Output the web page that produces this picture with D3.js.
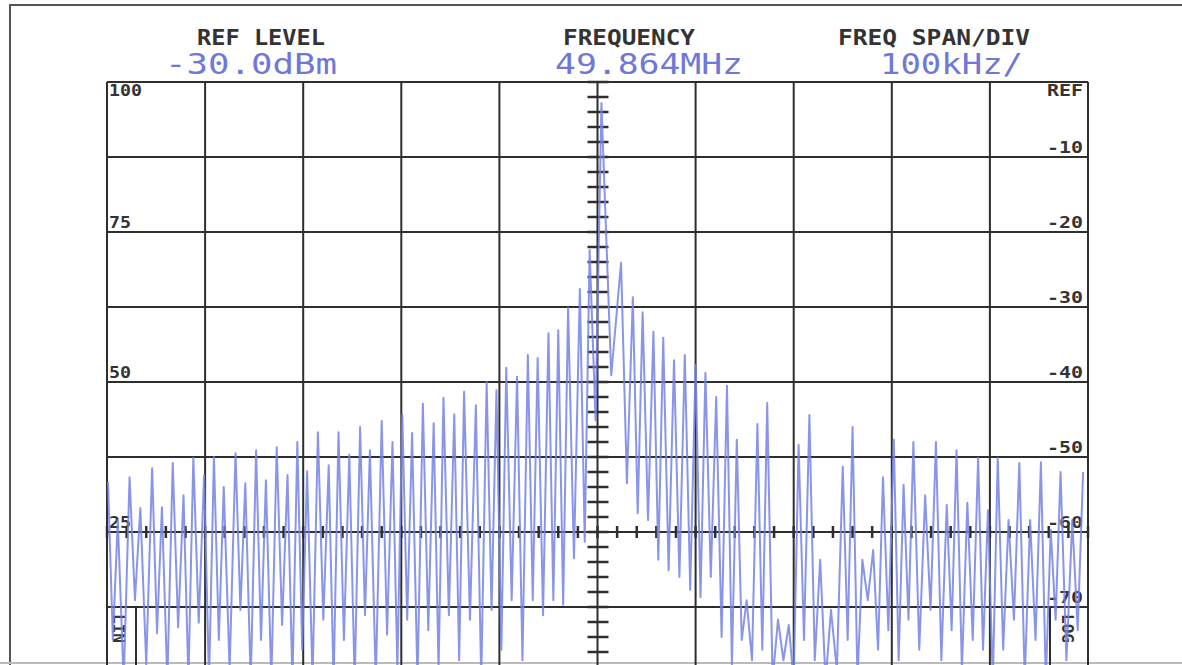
<!DOCTYPE html>
<meta charset="utf-8">
<head>
  <title>Spectrum analyzer display</title>
</head>
<style>
  body { margin: 0; background: #fff; }
  svg { display: block; }
</style>
<body>
  <svg width="1182" height="665"></svg>

  <script src="https://cdn.jsdelivr.net/npm/d3@7"></script>
  <script>
    // header readouts
    var headerLabels = ['REF LEVEL', 'FREQUENCY', 'FREQ SPAN/DIV'];
    var headerValues = ['-30.0dBm', '49.864MHz', '100kHz/'];

    // right (log) and left (lin) scale labels
    var logTickValues = [0, -10, -20, -30, -40, -50, -60, -70];
    var logTickLabels = ['REF', '-10', '-20', '-30', '-40', '-50', '-60', '-70'];
    var linTickValues = [100, 75, 50, 25];
    var linTickLabels = ['100', '75', '50', '25'];

    // trace peaks: offset from centre frequency (kHz) and level (dB below ref)
    var peakKHz = [-499, -489, -477, -466, -454, -444, -433, -422, -412, -401,
      -391, -381, -369, -359, -348, -338, -327, -316, -306, -296,
      -285, -274, -264, -253, -242, -232, -220, -209, -199, -189,
      -178, -167, -157, -146, -136, -124, -113, -103, -93, -82,
      -71, -61, -50, -40, -30, -18, -8, 4, 24, 36,
      46, 57, 67, 78, 89, 100, 110, 121, 132, 142,
      152, 163, 173, 184, 195, 205, 216, 227, 238, 250,
      260, 270, 281, 291, 302, 312, 322, 334, 345, 356,
      366, 377, 388, 398, 408, 419, 430, 441, 452, 462,
      472, 484, 495];
    var peakDb = [-53.3, -58.4, -52.7, -56.8, -51.5, -56.7, -50.8, -55.1, -50.1, -52.4,
      -50.0, -54.0, -49.5, -53.5, -49.1, -53.1, -48.7, -52.4, -48.0, -51.9,
      -46.7, -51.1, -46.7, -49.7, -46.0, -49.1, -45.2, -48.0, -44.4, -46.8,
      -42.9, -45.5, -42.1, -44.3, -41.3, -43.1, -40.0, -41.1, -38.1, -39.3,
      -36.4, -36.8, -33.5, -33.1, -30.1, -27.6, -22.4, -2.8, -24.1, -28.7,
      -30.7, -33.3, -34.1, -37.1, -36.4, -37.7, -38.8, -42.0, -40.5, -47.7,
      -69.1, -45.6, -42.8, -71.7, -72.4, -48.4, -44.4, -63.7, -70.4, -51.3,
      -46.0, -63.7, -62.4, -52.7, -47.7, -53.7, -48.0, -55.1, -48.0, -56.4,
      -49.1, -56.1, -50.1, -57.1, -50.1, -58.4, -50.8, -58.4, -50.7, -59.7,
      -52.0, -58.4, -52.0];
    // trough level between each pair of neighbouring peaks (dB below ref)
    var troughDb = [-74.4, -80, -69.1, -77.7, -73.5, -80, -72.7, -79.7, -72.1, -80,
      -74.4, -78.4, -70.4, -80, -74.4, -80, -72.4, -80, -75.7, -79.7,
      -71.7, -80, -74.4, -80, -71.1, -80, -73.7, -78.4, -71.7, -80,
      -73.1, -78.4, -71.1, -77.1, -71.7, -79.7, -70.4, -75.7, -69.1, -77.1,
      -69.1, -71.1, -69.1, -69.7, -63.5, -61.3, -45.1, -39.1, -53.5, -57.5,
      -58.4, -63.7, -65.1, -66.0, -67.7, -68.7, -66.0, -74.0, -77.7, -74.4,
      -77.1, -75.7, -79.7, -77.1, -80, -74.4, -77.1, -80, -78.4, -74.4,
      -79.7, -69.1, -75.7, -73.1, -77.1, -71.7, -75.7, -70.4, -77.1, -73.1,
      -78.4, -74.4, -75.7, -80, -75.7, -71.7, -79.7, -74.4, -80, -71.7,
      -77.1, -73.1];

    var svg = d3.select('svg');
    var plotLeft = 107, plotRight = 1088, plotTop = 82, plotBottom = 682;

    var x = d3.scaleLinear().domain([-500, 500]).range([plotLeft, plotRight]);
    var yDb = d3.scaleLinear().domain([-80, 0]).range([plotBottom, plotTop]);
    var yLin = d3.scaleLinear().domain([0, 100]).range([plotBottom, plotTop]);

    var gridColor = '#2e2e2e';
    var traceColor = '#7482e4';

    // outer frame of the print
    svg.append('path')
      .attr('d', 'M10,668 L10,5 L1182,5')
      .attr('fill', 'none')
      .attr('stroke', '#555')
      .attr('stroke-width', 2);
    svg.append('line')
      .attr('x1', 0).attr('x2', 1182).attr('y1', 663).attr('y2', 663)
      .attr('stroke', '#bbb').attr('stroke-width', 2);

    // header readouts
    var headerX = [197, 563, 838];
    var headerW = [128, 132, 192];
    var valueX = [165, 555, 880];
    var valueW = [172, 188, 143];
    svg.append('g').selectAll('text')
      .data(headerLabels)
      .enter()
      .append('text')
      .attr('x', (d, i) => headerX[i])
      .attr('y', 45)
      .attr('textLength', (d, i) => headerW[i])
      .attr('lengthAdjust', 'spacingAndGlyphs')
      .attr('font-family', 'DejaVu Sans Mono')
      .attr('font-weight', 'bold')
      .attr('font-size', 21)
      .attr('fill', '#333')
      .text(d => d);
    svg.append('g').selectAll('text')
      .data(headerValues)
      .enter()
      .append('text')
      .attr('x', (d, i) => valueX[i])
      .attr('y', 74)
      .attr('textLength', (d, i) => valueW[i])
      .attr('lengthAdjust', 'spacingAndGlyphs')
      .attr('font-family', 'DejaVu Sans Mono')
      .attr('font-size', 28)
      .attr('fill', '#6f78d6')
      .text(d => d);

    var plot = svg.append('g');

    // grid
    plot.append('g').selectAll('line')
      .data(d3.range(-500, 501, 100))
      .enter()
      .append('line')
      .attr('x1', d => x(d)).attr('x2', d => x(d))
      .attr('y1', plotTop).attr('y2', plotBottom)
      .attr('stroke', gridColor).attr('stroke-width', 2);
    plot.append('g').selectAll('line')
      .data(d3.range(-80, 1, 10))
      .enter()
      .append('line')
      .attr('x1', plotLeft).attr('x2', plotRight)
      .attr('y1', d => yDb(d)).attr('y2', d => yDb(d))
      .attr('stroke', gridColor).attr('stroke-width', 2);

    // minor ticks on the centre axes
    plot.append('g').selectAll('line')
      .data(d3.range(-80, 1, 2))
      .enter()
      .append('line')
      .attr('x1', x(0) - 10).attr('x2', x(0) + 11)
      .attr('y1', d => yDb(d)).attr('y2', d => yDb(d))
      .attr('stroke', gridColor).attr('stroke-width', 2.5);
    plot.append('g').selectAll('line')
      .data(d3.range(-500, 501, 20))
      .enter()
      .append('line')
      .attr('x1', d => x(d)).attr('x2', d => x(d))
      .attr('y1', yDb(-60) - 6).attr('y2', yDb(-60) + 6)
      .attr('stroke', gridColor).attr('stroke-width', 2.5);

    // LIN / LOG indicators
    plot.append('line')
      .attr('x1', 136).attr('x2', 136).attr('y1', yDb(-70)).attr('y2', plotBottom)
      .attr('stroke', gridColor).attr('stroke-width', 2);
    plot.append('line')
      .attr('x1', 1050).attr('x2', 1050).attr('y1', yDb(-70)).attr('y2', plotBottom)
      .attr('stroke', gridColor).attr('stroke-width', 2);
    plot.append('text')
      .attr('transform', 'translate(113,614) rotate(90)')
      .attr('font-family', 'DejaVu Sans Mono').attr('font-weight', 'bold')
      .attr('font-size', 16).attr('fill', '#333')
      .text('LIN');
    plot.append('text')
      .attr('transform', 'translate(1062,614) rotate(90)')
      .attr('font-family', 'DejaVu Sans Mono').attr('font-weight', 'bold')
      .attr('font-size', 16).attr('fill', '#333')
      .text('LOG');

    // scale labels
    plot.append('g').selectAll('text')
      .data(logTickValues)
      .enter()
      .append('text')
      .attr('x', 1083)
      .attr('y', d => d === 0 ? yDb(d) + 14 : yDb(d) - 4)
      .attr('text-anchor', 'end')
      .attr('textLength', 36)
      .attr('lengthAdjust', 'spacingAndGlyphs')
      .attr('font-family', 'DejaVu Sans Mono')
      .attr('font-weight', 'bold')
      .attr('font-size', 15)
      .attr('fill', '#333')
      .text((d, i) => logTickLabels[i]);
    plot.append('g').selectAll('text')
      .data(linTickValues)
      .enter()
      .append('text')
      .attr('x', 109)
      .attr('y', d => d === 100 ? yLin(d) + 14 : yLin(d) - 4)
      .attr('textLength', (d, i) => linTickLabels[i].length * 11)
      .attr('lengthAdjust', 'spacingAndGlyphs')
      .attr('font-family', 'DejaVu Sans Mono')
      .attr('font-weight', 'bold')
      .attr('font-size', 15)
      .attr('fill', '#333')
      .text((d, i) => linTickLabels[i]);

    // trace: peaks joined through the trough read between them
    var trace = [];
    peakKHz.forEach(function (f, i) {
      trace.push([f, peakDb[i]]);
      if (i < peakKHz.length - 1) {
        trace.push([(f + peakKHz[i + 1]) / 2, troughDb[i]]);
      }
    });

    svg.append('clipPath').attr('id', 'plot-clip')
      .append('rect')
      .attr('x', plotLeft).attr('y', plotTop)
      .attr('width', plotRight - plotLeft).attr('height', plotBottom - plotTop);

    var line = d3.line()
      .x(d => x(d[0]))
      .y(d => yDb(d[1]));

    plot.append('path')
      .datum(trace)
      .attr('clip-path', 'url(#plot-clip)')
      .attr('d', line)
      .attr('fill', 'none')
      .attr('stroke', traceColor)
      .attr('stroke-width', 2)
      .attr('stroke-opacity', 0.85)
      .attr('stroke-linejoin', 'round');
  </script>
</body>
</html>
